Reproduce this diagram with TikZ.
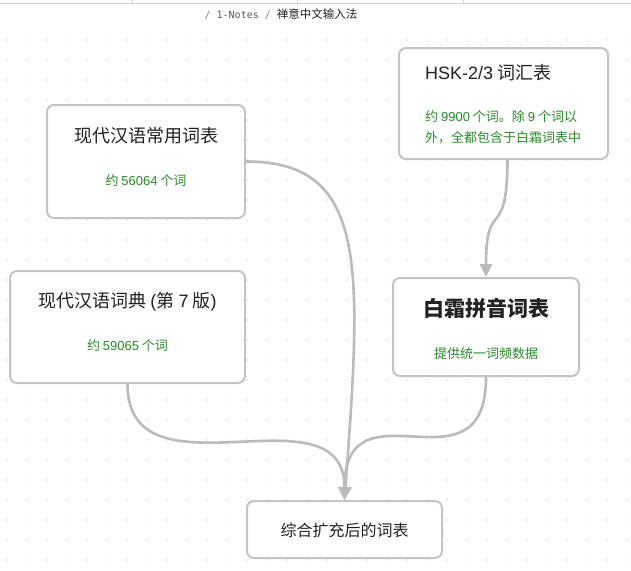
\documentclass[tikz,border=0pt]{standalone}
\usepackage{fontspec}
\setmainfont{Noto Sans CJK SC}
\newfontfamily\monofnt{DejaVu Sans Mono}
\newfontfamily\lat{Liberation Sans}
\usetikzlibrary{arrows.meta}
\definecolor{edgegray}{HTML}{BBBBBB}
\definecolor{boxgray}{HTML}{C4C4C4}
\definecolor{dotgray}{HTML}{DADADA}
\definecolor{txtgreen}{HTML}{2A8A2A}
\definecolor{txtdark}{HTML}{222222}
\tikzset{
  box/.style={draw=boxgray, line width=2pt, rounded corners=7pt, fill=white, inner sep=0pt},
  titletxt/.style={text=txtdark, font=\fontsize{18}{20}\selectfont, inner sep=0pt},
  bigtxt/.style={text=txtdark, font=\fontsize{21}{24}\selectfont\bfseries, inner sep=0pt},
  greentxt/.style={text=txtgreen, font=\fontsize{13}{15}\selectfont, inner sep=0pt},
  conn/.style={draw=edgegray, line width=2.6pt},
  arr/.style={conn, -{Triangle[length=13pt,width=12pt]}},
}
\begin{document}
\begin{tikzpicture}[x=1pt,y=-1pt]
\useasboundingbox (0,0) rectangle (631,570);
\fill[white] (0,0) rectangle (631,570);
% top bar
\draw[black!18, line width=1pt] (0,3) -- (631,3);
\foreach \xx in {132,297,463} \draw[black!18, line width=1pt] (\xx,0) -- (\xx,3);
\node[inner sep=0pt, anchor=center] (path) at (281,14)
  {{\monofnt\fontsize{10}{12}\selectfont\color{gray}/ \color{black!65}1-Notes \color{gray}/ }{\fontsize{11.5}{12}\selectfont\color{txtdark}禅意中文输入法}};
% dot grid
\foreach \gx in {0,...,31} {
  \foreach \gy in {2,...,28} {
    \fill[dotgray] ({7+20*\gx},{20*\gy}) circle (0.8);
  }
}
% boxes
\node[box, minimum width=198, minimum height=113] (A) at (146,161.5) {};
\node[box, minimum width=235, minimum height=112] (B) at (127.5,327) {};
\node[box, minimum width=209, minimum height=111] (C) at (503.5,103.5) {};
\node[box, minimum width=186, minimum height=98] (D) at (486,327) {};
\node[box, minimum width=195, minimum height=57] (E) at (344.5,529.5) {};
% texts
\node[titletxt] (At) at (146,136) {现代汉语常用词表};
\node[greentxt] (Ag) at (146,181) {约 {\lat 56064} 个词};
\node[titletxt] (Bt) at (127.5,302) {现代汉语词典 {\lat (}第 {\lat 7} 版{\lat )}};
\node[greentxt] (Bg) at (127.5,346) {约 {\lat 59065} 个词};
\node[titletxt, anchor=west] (Ct) at (425,73) {{\lat HSK-2/3} 词汇表};
\node[greentxt, anchor=west] (Cg1) at (425,117) {约 {\lat 9900} 个词。除 {\lat 9} 个词以};
\node[greentxt, anchor=west] (Cg2) at (425,138) {外，全都包含于白霜词表中};
\node[bigtxt] (Dt) at (486,308) {白霜拼音词表};
\node[greentxt] (Dg) at (486,354) {提供统一词频数据};
\node[titletxt, font=\fontsize{16}{18}\selectfont] (Et) at (344.5,530) {综合扩充后的词表};
% connectors
\draw[arr] ([xshift=4pt]C.south) .. controls (507,245) and (486,195) .. (D.north);
\draw[arr] (A.east) .. controls (368,161.5) and (362,265) .. (E.north);
\draw[arr] (B.south) .. controls (127.5,505) and (344.5,383) .. (E.north);
\draw[arr] (D.south) .. controls (486,500) and (344.5,376) .. (E.north);
\end{tikzpicture}
\end{document}
